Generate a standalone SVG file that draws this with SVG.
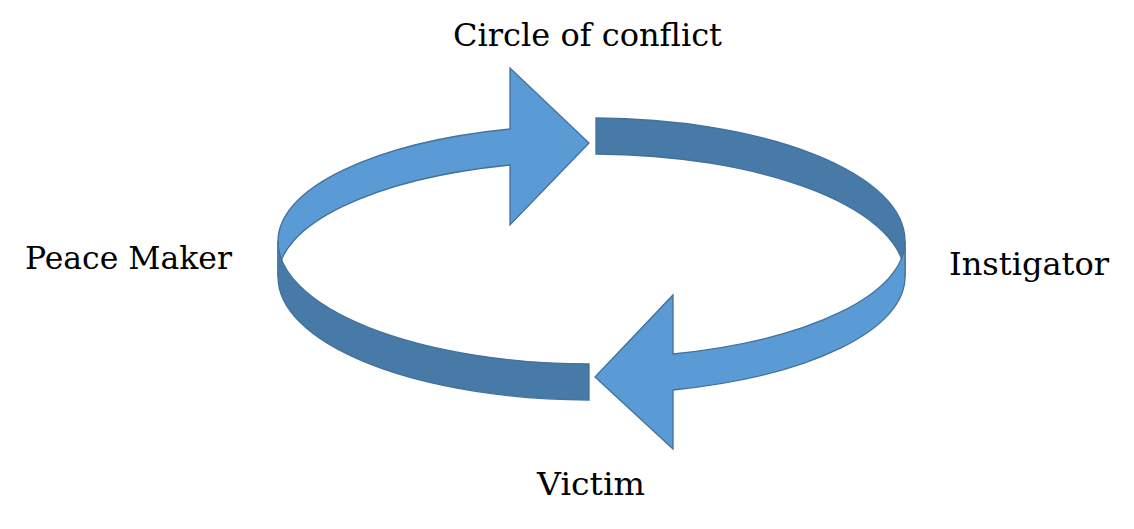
<svg xmlns="http://www.w3.org/2000/svg" width="1134" height="529" viewBox="0 0 1134 529">
  <style>
    .light { fill: #5B9BD5; stroke: #41719C; stroke-width: 1.3; stroke-linejoin: miter; }
    .dark { fill: #487AA8; stroke: #41719C; stroke-width: 1.3; stroke-linejoin: miter; }
    .lbl { font-family: "DejaVu Serif", "Liberation Serif", serif; font-size: 31px; fill: #000000; }
  </style>
  <rect width="1134" height="529" fill="#ffffff"/>
  <g id="connectors">
    <!-- back walls -->
    <path id="back-left-arrow" class="light" d="M 278 241 A 313.5 116 0 0 1 510 129 L 510 68 L 589 143 L 510 225 L 510 165 A 313.5 116 0 0 0 278 277 Z"/>
    <path id="back-right-band" class="dark" d="M 596 118 A 313.5 123 0 0 1 905 241 L 905 277 A 313.5 123 0 0 0 596 154 Z"/>
    <!-- front walls -->
    <path id="front-right-arrow" class="light" d="M 905 241 A 313.5 117 0 0 1 673 354 L 673 295 L 595 377 L 673 449 L 673 390 A 313.5 117 0 0 0 905 277 Z"/>
    <path id="front-left-band" class="dark" d="M 589 364 A 313.5 123 0 0 1 278 241 L 278 277 A 313.5 123 0 0 0 589 400 Z"/>
  </g>
  <g id="node-circle-of-conflict">
    <text class="lbl" x="453" y="46" textLength="269" lengthAdjust="spacingAndGlyphs">Circle of conflict</text>
  </g>
  <g id="node-peace-maker">
    <text class="lbl" x="25" y="269" textLength="207" lengthAdjust="spacingAndGlyphs">Peace Maker</text>
  </g>
  <g id="node-instigator">
    <text class="lbl" x="949" y="275" textLength="160" lengthAdjust="spacingAndGlyphs">Instigator</text>
  </g>
  <g id="node-victim">
    <text class="lbl" x="537" y="495" textLength="108" lengthAdjust="spacingAndGlyphs">Victim</text>
  </g>
</svg>
